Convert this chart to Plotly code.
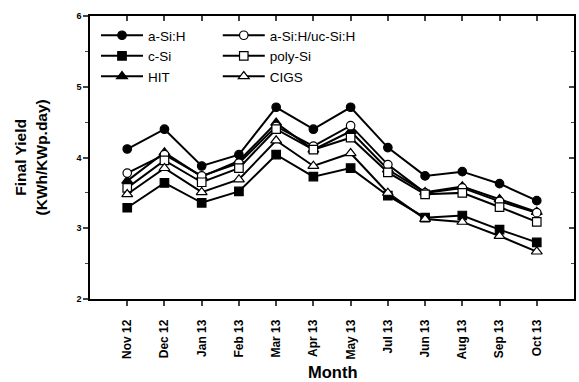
import plotly.graph_objects as go

months = ["Nov 12", "Dec 12", "Jan 13", "Feb 13", "Mar 13", "Apr 13", "May 13",
          "Jul 13", "Jun 13", "Aug 13", "Sep 13", "Oct 13"]

a_si = [4.12, 4.40, 3.88, 4.04, 4.71, 4.40, 4.71, 4.14, 3.74, 3.80, 3.63, 3.39]
a_si_uc = [3.78, 4.04, 3.74, 3.92, 4.44, 4.16, 4.45, 3.90, 3.50, 3.57, 3.38, 3.22]
c_si = [3.29, 3.64, 3.36, 3.52, 4.04, 3.73, 3.85, 3.46, 3.15, 3.18, 2.98, 2.80]
poly_si = [3.57, 3.96, 3.65, 3.85, 4.40, 4.11, 4.28, 3.79, 3.48, 3.50, 3.30, 3.09]
hit = [3.67, 4.07, 3.73, 3.95, 4.49, 4.11, 4.37, 3.83, 3.51, 3.59, 3.41, 3.23]
cigs = [3.48, 3.85, 3.51, 3.69, 4.24, 3.88, 4.06, 3.50, 3.13, 3.09, 2.89, 2.67]

FONT = "Liberation Sans, Arial, sans-serif"
xi = list(range(len(months)))

series = [
    ("a-Si:H", a_si, "circle", "black", "legend"),
    ("c-Si", c_si, "square", "black", "legend"),
    ("HIT", hit, "triangle-up", "black", "legend"),
    ("a-Si:H/uc-Si:H", a_si_uc, "circle", "white", "legend2"),
    ("poly-Si", poly_si, "square", "white", "legend2"),
    ("CIGS", cigs, "triangle-up", "white", "legend2"),
]

fig = go.Figure()
for name, vals, sym, fill, leg in series:
    fig.add_trace(go.Scatter(
        x=xi, y=vals, name=name, mode="lines+markers",
        line=dict(color="black", width=2),
        marker=dict(symbol=sym, size=8.5 if sym != "triangle-up" else 9.5, color=fill,
                    line=dict(color="black", width=1.2)),
        legend=leg,
    ))

# dummy trace for mirror axes
fig.add_trace(go.Scatter(x=[], y=[], xaxis="x2", yaxis="y2", showlegend=False))

axcommon = dict(showgrid=False, zeroline=False, showline=True, linecolor="black",
                linewidth=1.5, tickwidth=1.5, ticklen=5, automargin=False)

legfont = dict(size=13.5, family=FONT)

fig.update_layout(
    width=579, height=382,
    margin=dict(l=90, r=5, t=16, b=83, autoexpand=False),
    paper_bgcolor="white", plot_bgcolor="white",
    font=dict(family=FONT, color="black"),
    xaxis=dict(range=[-1, 12], tickvals=xi, ticktext=months, tickangle=-90,
               ticks="outside",
               tickfont=dict(size=12, family=FONT, weight="bold"),
               ticklabelstandoff=9, **axcommon),
    yaxis=dict(range=[2, 6], dtick=1, ticks="outside",
               minor=dict(dtick=0.5, ticks="outside", ticklen=3, tickwidth=1.2, showgrid=False),
               tickfont=dict(size=9, family=FONT, weight="bold"), **axcommon),
    xaxis2=dict(range=[-1, 12], tickvals=xi, overlaying="x", side="top",
                ticks="inside", showticklabels=False, **axcommon),
    yaxis2=dict(range=[2, 6], dtick=1, overlaying="y", side="right",
                ticks="inside",
                minor=dict(dtick=0.5, ticks="inside", ticklen=3, tickwidth=1.2, showgrid=False),
                showticklabels=False, **axcommon),
    legend=dict(x=0.0124, y=0.986, xanchor="left", yanchor="top",
                bgcolor="rgba(0,0,0,0)", font=legfont, itemwidth=42,
                tracegroupgap=0),
    legend2=dict(x=0.264, y=0.986, xanchor="left", yanchor="top",
                 bgcolor="rgba(0,0,0,0)", font=legfont, itemwidth=42,
                 tracegroupgap=0),
    showlegend=True,
    annotations=[
        dict(text="Final Yield<br>(KWh/KWp.day)", xref="paper", yref="paper",
             x=-0.122, y=0.5, xanchor="center", yanchor="middle",
             textangle=-90, showarrow=False,
             font=dict(size=15.5, family=FONT, weight="bold")),
        dict(text="Month", xref="paper", yref="paper", x=0.5, y=-0.258,
             xanchor="center", yanchor="middle",
             showarrow=False, font=dict(size=16.5, family=FONT, weight="bold")),
    ],
)

fig.write_html("out.html", config={"displayModeBar": False},
               post_script="document.body.style.margin='0';")
